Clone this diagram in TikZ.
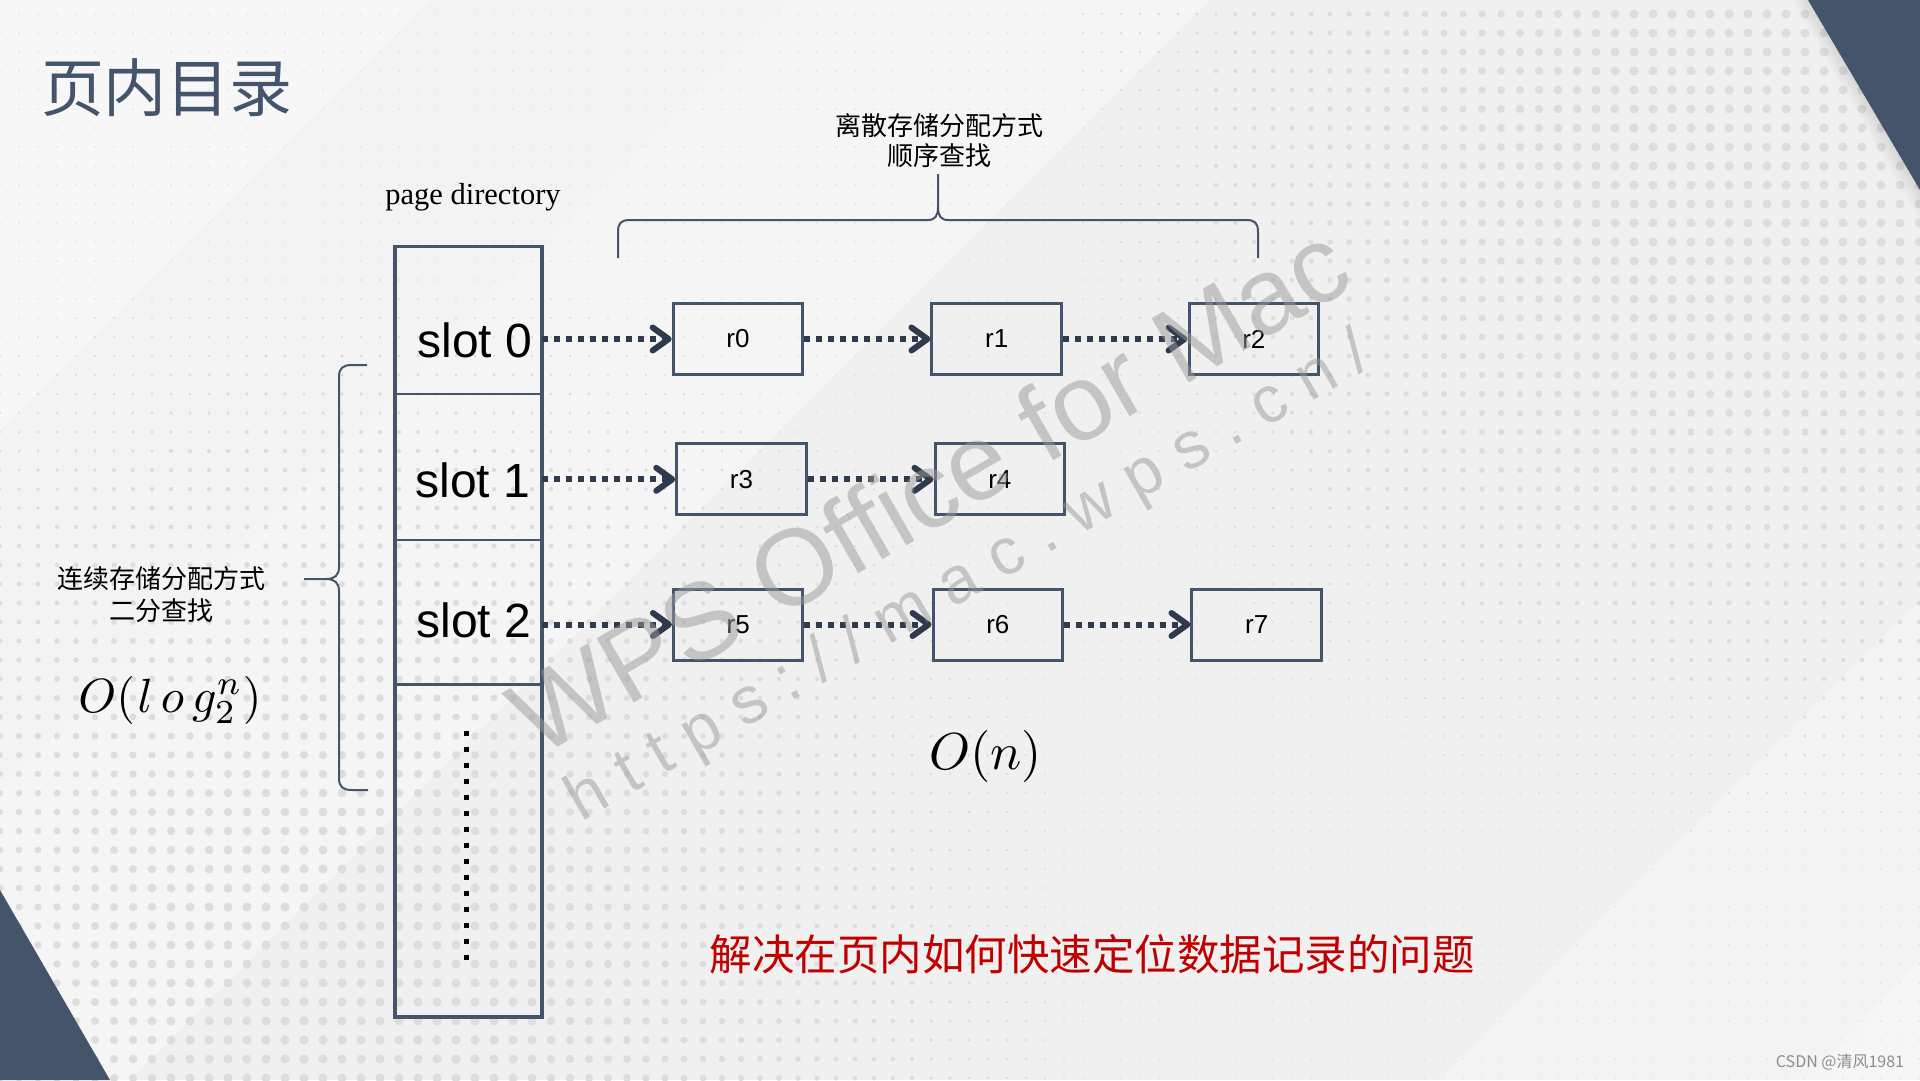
\documentclass[tikz,border=0pt]{standalone}
\usepackage{fontspec}
\setmainfont{Liberation Serif}
\setsansfont{Liberation Sans}
\newfontfamily\cjk{Noto Sans CJK SC}
\usetikzlibrary{arrows.meta}
\definecolor{slate}{HTML}{44546A}
\definecolor{arrowc}{HTML}{2F3B4D}
\definecolor{bgc}{HTML}{F0F0F0}
\definecolor{dotc}{HTML}{DDDDDD}
\definecolor{redt}{HTML}{C00000}
\definecolor{wmc}{HTML}{9A9A9A}
\newcommand\fs[1]{\fontsize{#1}{#1}\selectfont}
\newcommand\wsp{\hspace{19.5pt}}
\tikzset{
  rec/.style={draw=slate, line width=3pt, minimum width=129.5pt, minimum height=71pt, inner sep=0pt, font=\sffamily\fs{26}},
  cell/.style={draw=slate, line width=2pt, minimum width=145.3pt, inner sep=0pt},
  link/.style={draw=arrowc, line width=6pt, dash pattern=on 6pt off 6pt, -{Straight Barb[length=16pt,width=23pt,round]}},
  brace/.style={draw=slate, line width=2pt},
  slotlbl/.style={font=\sffamily\fs{48}, inner sep=0pt},
  cnlbl/.style={align=center, inner sep=0pt},
  mathlbl/.style={anchor=base, inner sep=0pt, font=\fontsize{10}{12}\selectfont},
  wmark/.style={rotate=30, anchor=base, text=wmc, text opacity=0.5, inner sep=0pt}
}
\begin{document}
\begin{tikzpicture}[x=1pt,y=-1pt]
% ---------- background ----------
\fill[bgc] (0,0) rectangle (1920,1080);
\useasboundingbox (0,0) rectangle (1920,1080);
\fill[white, fill opacity=0.5] (0,0) -- (430,0) -- (0,430) -- cycle;
\fill[white, fill opacity=0.2] (430,0) -- (790,0) -- (0,790) -- (0,430) -- cycle;
\fill[white, fill opacity=0.35] (790,0) -- (1210,0) -- (130,1080) -- (0,1080) -- (0,790) -- cycle;
\fill[white, fill opacity=0.4] (1920,960) -- (1920,1080) -- (1805,1080) -- cycle;
\fill[white, fill opacity=0.25] (1920,600) -- (1920,960) -- (1805,1080) -- (1440,1080) -- cycle;
% dot grid
\foreach \i in {0,...,101}{
  \foreach \j in {0,...,56}{
    \pgfmathsetmacro\xx{19*\i}
    \pgfmathsetmacro\yy{14+19*\j}
    \pgfmathsetmacro\fa{1-veclen((\xx-1750)/100,(\yy-150)/100)/7}
    \pgfmathsetmacro\fb{1-veclen((\xx-350)/100,(\yy-1000)/100)/7.5}
    \pgfmathsetmacro\ff{min(1,1.3*max(0,max(\fa,\fb)))}
    \pgfmathsetmacro\rr{0.9+3.7*\ff}
    \fill[dotc] (\xx,\yy) circle[radius=\rr];
  }
}
% corner triangles
\foreach \k in {1,...,8}{
  \fill[black, fill opacity=0.012] (1808-2*\k,0) -- (1920,0) -- (1920,190+4*\k) -- cycle;
}
\fill[slate] (1808,0) -- (1920,0) -- (1920,190) -- cycle;
\fill[slate] (0,890) -- (110,1080) -- (0,1080) -- cycle;

% ---------- texts ----------
\node[text=slate, font=\cjk\fs{63}, inner sep=0pt] (title) at (167,88) {页内目录};
\node[font=\fs{30.5}, inner sep=0pt] (pd) at (473,197) {page directory};
\node[cnlbl, font=\cjk\fontsize{26}{30}\selectfont] (disc) at (939,141) {离散存储分配方式\\顺序查找};
\node[cnlbl, font=\cjk\fontsize{26}{32}\selectfont] (cont) at (161,595) {连续存储分配方式\\二分查找};
\node[mathlbl, scale=4.8] (olog) at (170,712) {$O(\mkern1mu l\mkern3mu o\mkern3mu g_2^n)$};
\node[mathlbl, scale=5.2] (on) at (985.5,769) {$O(n)$};
\node[text=redt, font=\cjk\fs{42.5}, inner sep=0pt] (prob) at (1092,954) {解决在页内如何快速定位数据记录的问题};
\node[text=black!45, font=\cjk\fs{16}, inner sep=0pt] (csdn) at (1840,1062) {CSDN @清风1981};

% ---------- braces ----------
\draw[brace] (618,258) -- (618,232) .. controls (618,223) and (621,220) .. (630,220) -- (928,220)
  .. controls (935,220) and (938,216) .. (938,207) -- (938,174);
\draw[brace] (938,207) .. controls (938,216) and (941,220) .. (948,220) -- (1246,220)
  .. controls (1255,220) and (1258,223) .. (1258,232) -- (1258,258);
\draw[brace] (367,365) -- (352,365) .. controls (343,365) and (339,368) .. (339,377) -- (339,567)
  .. controls (339,575) and (335,579) .. (326,579) -- (304,579);
\draw[brace] (326,579) .. controls (335,579) and (339,583) .. (339,591) -- (339,778)
  .. controls (339,787) and (343,790) .. (352,790) -- (368,790);

% ---------- page directory column ----------
\node[cell, minimum height=147pt] (c0) at (468.35,320.8) {};
\node[cell, minimum height=145.2pt] (c1) at (468.35,466.9) {};
\node[cell, minimum height=145pt] (c2) at (468.35,612) {};
\node[cell, minimum height=331.6pt] (c3) at (468.35,850.2) {};
\draw[slate, line width=3pt] (c0.north west) rectangle (c3.south east);
\node[slotlbl] (t0) at (475,340) {slot 0};
\node[slotlbl] (t1) at (473,480) {slot 1};
\node[slotlbl] (t2) at (474,620) {slot 2};
\draw[black, line width=5pt, dash pattern=on 5pt off 11pt] (466,731) -- (466,960);

% ---------- records ----------
\node[rec] (r0) at (737.9,339) {r0};
\node[rec] (r1) at (996.7,339) {r1};
\node[rec] (r2) at (1253.8,339) {r2};
\node[rec] (r3) at (741.5,479.3) {r3};
\node[rec] (r4) at (999.8,479.3) {r4};
\node[rec] (r5) at (738.2,624.5) {r5};
\node[rec] (r6) at (997.8,624.5) {r6};
\node[rec] (r7) at (1256.7,624.5) {r7};

% ---------- links ----------
\draw[link] (c0.east |- r0.west) -- (r0.west);
\draw[link] (r0.east) -- (r1.west);
\draw[link] (r1.east) -- (r2.west);
\draw[link] (c1.east |- r3.west) -- (r3.west);
\draw[link] (r3.east) -- (r4.west);
\draw[link] (c2.east |- r5.west) -- (r5.west);
\draw[link] (r5.east) -- (r6.west);
\draw[link] (r6.east) -- (r7.west);

% ---------- watermark ----------
\node[wmark, font=\sffamily\fs{108}] (wm1) at (948,522) {WPS Office for Mac};
\node[wmark, font=\sffamily\fs{66}] (wm2) at (978,594) {h\wsp t\wsp t\wsp p\wsp s\wsp :\wsp /\wsp /\wsp m\wsp a\wsp c\wsp .\wsp w\wsp p\wsp s\wsp .\wsp c\wsp n\wsp /};
\end{tikzpicture}
\end{document}
